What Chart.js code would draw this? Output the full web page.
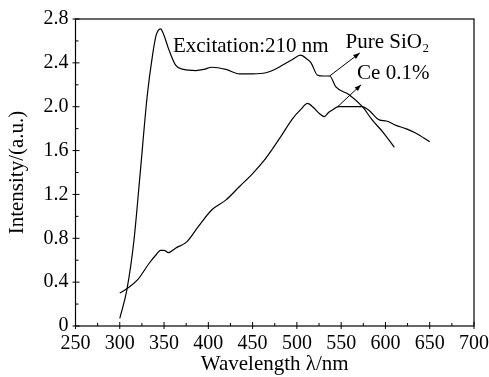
<!DOCTYPE html>
<html lang="en">

<head>
    <meta charset="UTF-8">
    <title>Excitation 210 nm</title>
    <script src="https://cdn.jsdelivr.net/npm/chart.js"></script>
    <style>
        body { margin: 0; background: #ffffff; }
        #box { width: 489px; height: 377px; }
    </style>
</head>

<body>
    <div id="box">
        <canvas id="grafico" width="489" height="377"></canvas>
    </div>
</body>

</html>

<script>
    // values
    var pureX = [300, 308, 316, 323, 331, 337, 341, 346, 350, 355, 363, 372, 386, 395, 404, 420, 435, 450, 465, 475, 484, 495, 504, 512, 516, 523, 530, 537, 544, 559, 574, 585, 598, 610];
    var pureY = [0.07, 0.33, 0.78, 1.39, 2.10, 2.47, 2.65, 2.71, 2.65, 2.53, 2.38, 2.34, 2.33, 2.34, 2.36, 2.34, 2.30, 2.30, 2.31, 2.34, 2.38, 2.43, 2.47, 2.43, 2.40, 2.29, 2.28, 2.28, 2.18, 2.11, 2.00, 1.88, 1.76, 1.63];

    var ceX = [300, 308, 320, 333, 341, 346, 350, 355, 363, 376, 389, 404, 420, 435, 450, 463, 472, 482, 495, 505, 512, 519, 525, 531, 536, 540, 547, 560, 573, 581, 593, 601, 612, 623, 634, 650];
    var ceY = [0.30, 0.34, 0.42, 0.57, 0.65, 0.69, 0.69, 0.67, 0.71, 0.77, 0.91, 1.06, 1.15, 1.27, 1.39, 1.51, 1.61, 1.73, 1.89, 1.98, 2.03, 1.99, 1.94, 1.91, 1.95, 1.97, 2.00, 2.00, 2.00, 1.97, 1.88, 1.87, 1.83, 1.80, 1.76, 1.68];

    var xTicks = [250, 300, 350, 400, 450, 500, 550, 600, 650, 700];
    var xTickLabels = ["250", "300", "350", "400", "450", "500", "550", "600", "650", "700"];
    var yTicks = [0, 0.4, 0.8, 1.2, 1.6, 2.0, 2.4, 2.8];
    var yTickLabels = ["0", "0.4", "0.8", "1.2", "1.6", "2.0", "2.4", "2.8"];

    var fonte = '"Liberation Serif", "Times New Roman", serif';

    function pares(xs, ys) {
        var lista = [];
        for (var i = 0; i < xs.length; i++) {
            lista.push({ x: xs[i], y: ys[i] });
        }
        return lista;
    }

    // frame, inward ticks, labels and arrows
    var moldura = {
        id: 'moldura',
        afterDraw: function (chart) {
            var ctx = chart.ctx;
            var a = chart.chartArea;
            var sx = chart.scales.x;
            var sy = chart.scales.y;

            ctx.save();
            ctx.strokeStyle = '#000';
            ctx.lineWidth = 1.2;
            ctx.strokeRect(a.left, a.top, a.right - a.left, a.bottom - a.top);

            ctx.lineWidth = 1;
            ctx.beginPath();
            for (var v = 250; v <= 700; v += 25) {
                var px = sx.getPixelForValue(v);
                var maior = v % 50 === 0;
                ctx.moveTo(px, a.bottom + (maior ? 3 : 0));
                ctx.lineTo(px, a.bottom - (maior ? 4 : 3));
            }
            for (var k = 0; k <= 14; k++) {
                var py = sy.getPixelForValue(k * 0.2);
                var maiorY = k % 2 === 0;
                ctx.moveTo(a.left - (maiorY ? 3 : 0), py);
                ctx.lineTo(a.left + (maiorY ? 4 : 3), py);
            }
            ctx.stroke();

            // annotations
            ctx.fillStyle = '#000';
            ctx.font = '21px ' + fonte;
            ctx.textAlign = 'left';
            ctx.textBaseline = 'alphabetic';
            ctx.fillText('Excitation:210 nm', sx.getPixelForValue(360), sy.getPixelForValue(2.50));
            ctx.fillText('Pure SiO\u2082', sx.getPixelForValue(555), sy.getPixelForValue(2.54));
            ctx.fillText('Ce 0.1%', sx.getPixelForValue(568), sy.getPixelForValue(2.25));

            seta(ctx, sx.getPixelForValue(537), sy.getPixelForValue(2.28), sx.getPixelForValue(571), sy.getPixelForValue(2.49));
            seta(ctx, sx.getPixelForValue(546), sy.getPixelForValue(2.00), sx.getPixelForValue(572.5), sy.getPixelForValue(2.20));
            ctx.restore();
        }
    };

    function seta(ctx, x1, y1, x2, y2) {
        var ang = Math.atan2(y2 - y1, x2 - x1);
        ctx.lineWidth = 1;
        ctx.beginPath();
        ctx.moveTo(x1, y1);
        ctx.lineTo(x2, y2);
        ctx.stroke();
        ctx.beginPath();
        ctx.moveTo(x2, y2);
        ctx.lineTo(x2 - 7 * Math.cos(ang - 0.35), y2 - 7 * Math.sin(ang - 0.35));
        ctx.lineTo(x2 - 7 * Math.cos(ang + 0.35), y2 - 7 * Math.sin(ang + 0.35));
        ctx.closePath();
        ctx.fill();
    }

    var config = {
        type: 'line',
        data: {
            datasets: [
                {
                    label: 'Pure SiO2',
                    data: pares(pureX, pureY),
                    borderColor: '#000',
                    borderWidth: 1.2,
                    pointRadius: 0,
                    fill: false,
                    cubicInterpolationMode: 'monotone'
                },
                {
                    label: 'Ce 0.1%',
                    data: pares(ceX, ceY),
                    borderColor: '#000',
                    borderWidth: 1.2,
                    pointRadius: 0,
                    fill: false,
                    cubicInterpolationMode: 'monotone'
                }
            ]
        },
        options: {
            responsive: false,
            animation: false,
            devicePixelRatio: 1,
            layout: { padding: { top: 19, right: 15, left: 0, bottom: 0 } },
            plugins: {
                legend: { display: false },
                tooltip: { enabled: false }
            },
            scales: {
                x: {
                    type: 'linear',
                    min: 250,
                    max: 700,
                    grid: { display: false, drawTicks: false },
                    border: { display: false },
                    afterBuildTicks: function (scale) {
                        scale.ticks = xTicks.map(function (v) { return { value: v }; });
                    },
                    afterFit: function (scale) {
                        scale.height = 51;
                        scale.paddingLeft = 0;
                        scale.paddingRight = 0;
                    },
                    ticks: {
                        padding: 6,
                        maxRotation: 0,
                        color: '#000',
                        font: { family: fonte, size: 20 },
                        callback: function (value, index) { return xTickLabels[index]; }
                    },
                    title: {
                        display: true,
                        text: 'Wavelength λ/nm',
                        color: '#000',
                        padding: { top: 0, bottom: 0 },
                        font: { family: fonte, size: 21 }
                    }
                },
                y: {
                    min: 0,
                    max: 2.8,
                    grid: { display: false, drawTicks: false },
                    border: { display: false },
                    afterBuildTicks: function (scale) {
                        scale.ticks = yTicks.map(function (v) { return { value: v }; });
                    },
                    afterFit: function (scale) {
                        scale.width = 75.5;
                        scale.paddingTop = 0;
                        scale.paddingBottom = 0;
                    },
                    ticks: {
                        padding: 7,
                        color: '#000',
                        font: { family: fonte, size: 20 },
                        callback: function (value, index) { return yTickLabels[index]; }
                    },
                    title: {
                        display: true,
                        text: 'Intensity/(a.u.)',
                        color: '#000',
                        padding: { top: 5, bottom: 0 },
                        font: { family: fonte, size: 21 }
                    }
                }
            }
        },
        plugins: [moldura]
    };

    var myChart = new Chart(document.getElementById('grafico'), config);
</script>
